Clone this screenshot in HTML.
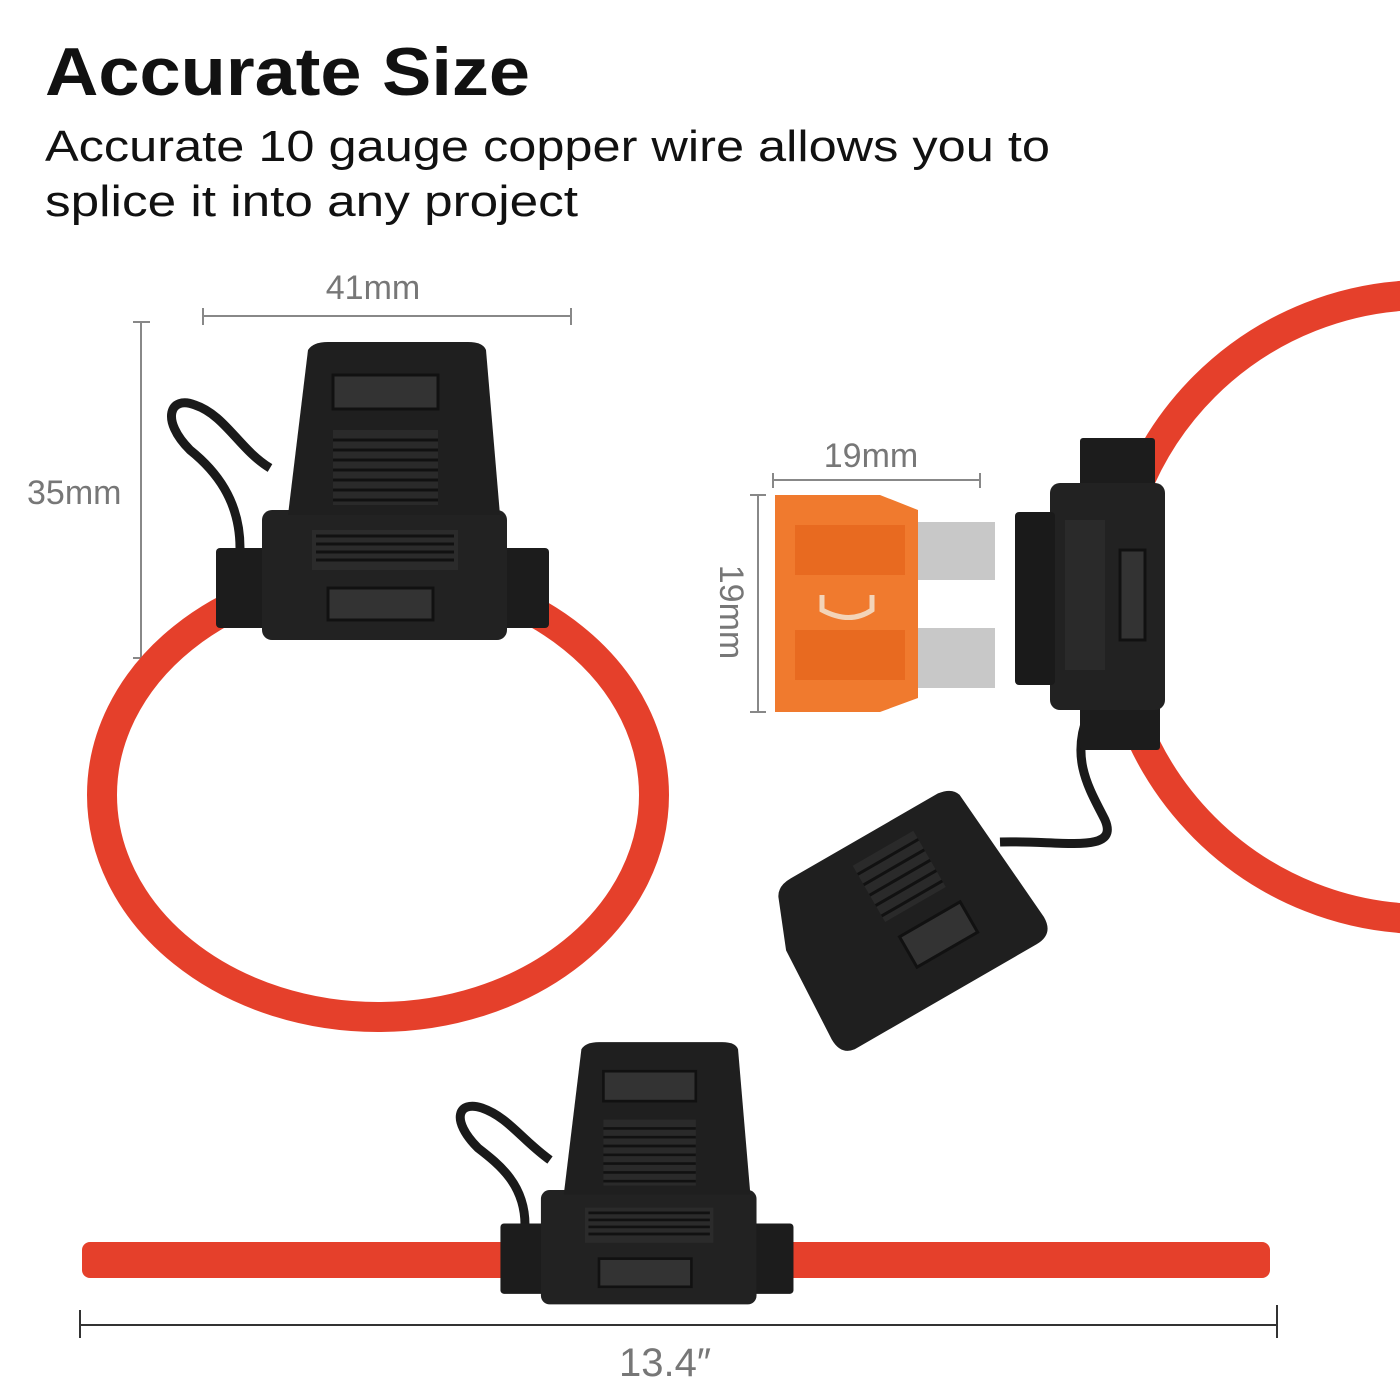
<!DOCTYPE html>
<html><head><meta charset="utf-8"><style>
html,body{margin:0;padding:0;background:#fff;}
svg{display:block}
</style></head><body>
<svg width="1400" height="1400" viewBox="0 0 1400 1400" xmlns="http://www.w3.org/2000/svg" font-family="Liberation Sans, DejaVu Sans, sans-serif">
<defs>
<g id="holder">
  <rect x="-162" y="38" width="333" height="80" rx="4" fill="#1c1c1c"/>
  <rect x="-116" y="0" width="245" height="130" rx="10" fill="#222"/>
  <rect x="-66" y="20" width="146" height="40" fill="#2b2b2b"/>
  <g stroke="#111" stroke-width="3">
    <line x1="-62" y1="26" x2="76" y2="26"/><line x1="-62" y1="34" x2="76" y2="34"/>
    <line x1="-62" y1="42" x2="76" y2="42"/><line x1="-62" y1="50" x2="76" y2="50"/>
  </g>
  <rect x="-50" y="78" width="105" height="32" fill="#333" stroke="#111" stroke-width="3"/>
  <path d="M-90 5 L-70 -160 Q-65 -168 -50 -168 L90 -168 Q105 -168 108 -160 L122 5 Z" fill="#1f1f1f"/>
  <rect x="-45" y="-135" width="105" height="34" fill="#333" stroke="#111" stroke-width="3"/>
  <rect x="-45" y="-80" width="105" height="75" fill="#2a2a2a"/>
  <g stroke="#111" stroke-width="3">
    <line x1="-45" y1="-70" x2="60" y2="-70"/><line x1="-45" y1="-60" x2="60" y2="-60"/>
    <line x1="-45" y1="-50" x2="60" y2="-50"/><line x1="-45" y1="-40" x2="60" y2="-40"/>
    <line x1="-45" y1="-30" x2="60" y2="-30"/><line x1="-45" y1="-20" x2="60" y2="-20"/>
    <line x1="-45" y1="-10" x2="60" y2="-10"/>
  </g>
</g>
</defs>

<text x="45" y="95" font-size="68" font-weight="bold" fill="#111" textLength="485" lengthAdjust="spacingAndGlyphs">Accurate Size</text>
<text x="45" y="161" font-size="44" fill="#111" textLength="1005" lengthAdjust="spacingAndGlyphs">Accurate 10 gauge copper wire allows you to</text>
<text x="45" y="216" font-size="44" fill="#111" textLength="533" lengthAdjust="spacingAndGlyphs">splice it into any project</text>

<text x="373" y="299" font-size="34" fill="#777" text-anchor="middle">41mm</text>
<g stroke="#888" stroke-width="2">
<line x1="203" y1="316" x2="571" y2="316"/><line x1="203" y1="308" x2="203" y2="325"/><line x1="571" y1="308" x2="571" y2="325"/>
<line x1="141" y1="322" x2="141" y2="658"/><line x1="133" y1="322" x2="150" y2="322"/><line x1="133" y1="658" x2="150" y2="658"/>
</g>
<text x="27" y="504" font-size="34" fill="#777">35mm</text>

<ellipse cx="378" cy="795" rx="276" ry="222" fill="none" stroke="#e5402b" stroke-width="30"/>
<path d="M240 548 C240 500 215 470 190 450 C160 420 170 395 195 405 C225 415 240 450 270 468" fill="none" stroke="#1a1a1a" stroke-width="9"/>
<use href="#holder" x="378" y="510"/>

<circle cx="1425" cy="607" r="312" fill="none" stroke="#e5402b" stroke-width="30"/>
<path d="M1088 715 C1070 760 1090 790 1105 820 C1120 855 1060 840 1000 842" fill="none" stroke="#1a1a1a" stroke-width="9"/>
<rect x="1080" y="438" width="75" height="60" rx="3" fill="#1c1c1c"/>
<rect x="1080" y="700" width="80" height="50" rx="3" fill="#1c1c1c"/>
<rect x="1050" y="483" width="115" height="227" rx="10" fill="#222"/>
<rect x="1015" y="512" width="40" height="173" rx="4" fill="#1a1a1a"/>
<rect x="1065" y="520" width="40" height="150" fill="#2a2a2a"/>
<rect x="1120" y="550" width="25" height="90" fill="#333" stroke="#111" stroke-width="3"/>

<rect x="918" y="522" width="77" height="58" fill="#c8c8c8"/>
<rect x="918" y="628" width="77" height="60" fill="#c8c8c8"/>
<path d="M775 495 L880 495 L918 510 L918 698 L880 712 L775 712 Z" fill="#f07a2e"/>
<rect x="795" y="525" width="110" height="50" fill="#e86a20"/>
<rect x="795" y="630" width="110" height="50" fill="#e86a20"/>
<path d="M822 595 L822 610 Q850 625 872 610 L872 595" fill="none" stroke="#f3d4b8" stroke-width="5"/>
<text x="871" y="467" font-size="34" fill="#777" text-anchor="middle">19mm</text>
<g stroke="#888" stroke-width="2">
<line x1="773" y1="480" x2="980" y2="480"/><line x1="773" y1="473" x2="773" y2="488"/><line x1="980" y1="473" x2="980" y2="488"/>
<line x1="758" y1="495" x2="758" y2="712"/><line x1="750" y1="495" x2="766" y2="495"/><line x1="750" y1="712" x2="766" y2="712"/>
</g>
<text transform="translate(720,612) rotate(90)" font-size="34" fill="#777" text-anchor="middle">19mm</text>

<g transform="translate(910,925) rotate(-30)">
  <path d="M-120 -40 L-100 -90 Q-95 -100 -80 -100 L90 -100 Q105 -98 108 -88 L120 60 Q120 80 100 80 L-110 80 Q-125 78 -125 60 Z" fill="#1f1f1f"/>
  <rect x="-20" y="-80" width="70" height="65" fill="#2a2a2a"/>
  <g stroke="#111" stroke-width="3"><line x1="-20" y1="-70" x2="50" y2="-70"/><line x1="-20" y1="-58" x2="50" y2="-58"/><line x1="-20" y1="-46" x2="50" y2="-46"/><line x1="-20" y1="-34" x2="50" y2="-34"/><line x1="-20" y1="-22" x2="50" y2="-22"/></g>
  <rect x="-15" y="5" width="70" height="35" fill="#333" stroke="#111" stroke-width="3"/>
</g>

<rect x="82" y="1242" width="1188" height="36" rx="8" fill="#e5402b"/>
<path d="M525 1225 C525 1185 500 1165 478 1148 C450 1120 458 1100 482 1108 C508 1117 522 1140 550 1160" fill="none" stroke="#1a1a1a" stroke-width="9"/>
<g transform="translate(643,1190) scale(0.88)"><use href="#holder"/></g>

<g stroke="#333" stroke-width="2">
<line x1="80" y1="1325" x2="1277" y2="1325"/><line x1="80" y1="1310" x2="80" y2="1338"/><line x1="1277" y1="1305" x2="1277" y2="1338"/>
</g>
<text x="665" y="1376" font-size="40" fill="#777" text-anchor="middle">13.4″</text>
</svg>
</body></html>
